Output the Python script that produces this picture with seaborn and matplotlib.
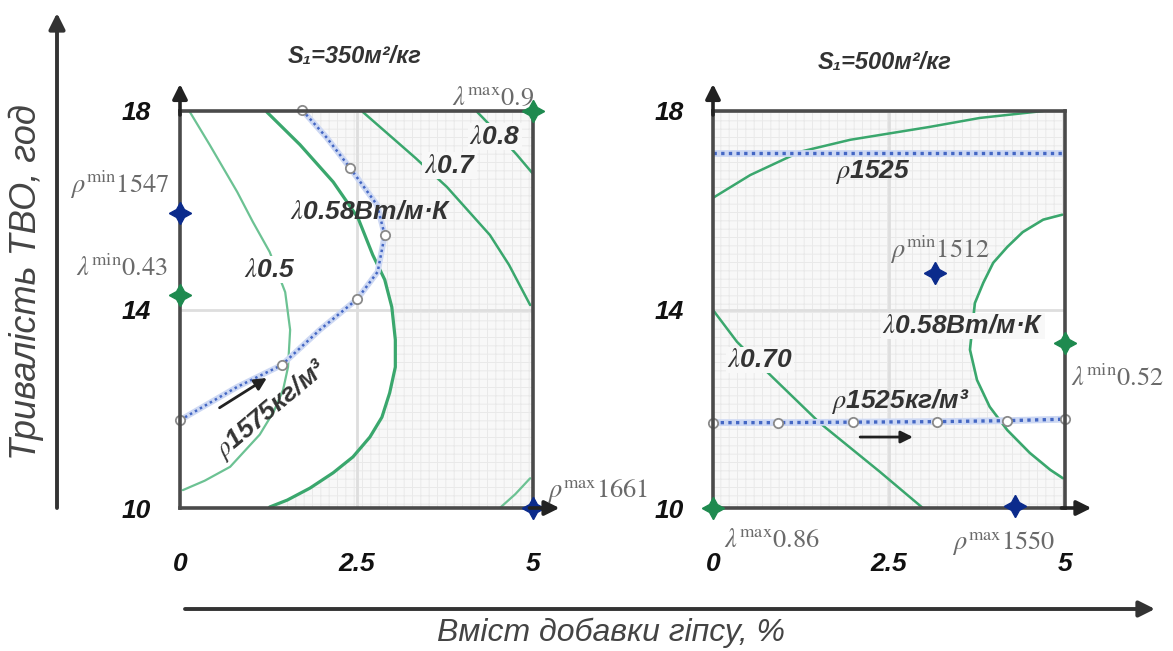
import numpy as np
import matplotlib
matplotlib.use("Agg")
import matplotlib.pyplot as plt
import seaborn as sns

# ---------- data (x = gypsum %, y = hours) ----------
# S1 = 350 m2/kg
lam05_x = [0.14, 0.42, 0.81, 1.03, 1.27, 1.49, 1.56, 1.53, 1.46, 1.33, 1.13, 0.71, 0.35, 0.04]
lam05_y = [17.98, 17.32, 16.37, 15.77, 15.16, 14.35, 13.59, 12.84, 12.38, 11.95, 11.48, 10.83, 10.55, 10.36]
lam058_x = [1.23, 1.70, 2.17, 2.52, 2.73, 2.90, 3.00, 3.05, 3.05, 2.97, 2.86, 2.69, 2.45, 2.17, 1.84, 1.52, 1.27]
lam058_y = [17.98, 17.32, 16.57, 15.85, 15.10, 14.60, 14.05, 13.39, 12.84, 12.32, 11.83, 11.43, 11.03, 10.71,
            10.40, 10.16, 10.02]
lam07_x = [2.59, 3.33, 3.78, 4.39, 4.66, 4.96]
lam07_y = [17.98, 17.06, 16.47, 15.50, 14.90, 14.09]
lam08_x = [4.21, 4.36, 4.77, 4.99]
lam08_y = [17.98, 17.76, 17.12, 16.75]
lam09_x = [4.53, 4.75, 4.96]
lam09_y = [10.00, 10.28, 10.60]
rho1575_x = [0.0, 0.81, 1.44, 1.98, 2.51, 2.80, 2.90, 2.79, 2.41, 2.08, 1.73]
rho1575_y = [11.77, 12.44, 12.88, 13.59, 14.21, 14.76, 15.50, 16.11, 16.85, 17.46, 18.02]
rho1575_pts = [0, 2, 4, 6, 8, 10]

# S1 = 500 m2/kg
top_x = [0.0, 0.53, 1.24, 1.95, 3.08, 3.79, 4.69]
top_y = [16.25, 16.71, 17.18, 17.42, 17.68, 17.86, 18.0]
rho_hi_x = [0.0, 5.0]
rho_hi_y = [17.16, 17.16]
rho_lo_x = [0.0, 0.93, 1.99, 3.18, 4.17, 5.0]
rho_lo_y = [11.72, 11.72, 11.73, 11.74, 11.76, 11.79]
lam070_x = [0.0, 0.34, 0.77, 1.52, 2.37, 2.98]
lam070_y = [13.99, 13.35, 12.74, 11.71, 10.73, 10.0]
lam058r_x = [4.96, 4.69, 4.40, 4.18, 3.98, 3.84, 3.72, 3.65, 3.75, 3.93, 4.18, 4.50, 4.79, 4.97]
lam058r_y = [15.91, 15.81, 15.56, 15.26, 14.94, 14.54, 14.13, 13.19, 12.58, 12.04, 11.57, 11.11, 10.77, 10.60]

# extrema (stars)
left_stars = [(0.0, 15.95, "blue"), (0.0, 14.29, "green"), (5.0, 18.0, "green"), (5.0, 10.0, "blue")]
right_stars = [(3.15, 14.74, "blue"), (5.0, 13.33, "green"), (0.0, 10.0, "green"), (4.29, 10.05, "blue")]

xticks = [0, 2.5, 5]
xticklabels = ["0", "2.5", "5"]
yticks = [10, 14, 18]

GREEN = "#3aa76d"
LGREEN = "#6cc293"
BLUE = "#4467c4"
HALO = "#cdd8f3"
STAR = {"blue": "#0b2b8c", "green": "#1e8a4f"}
FRAME = "#4a4a4a"
HATCH_FC = "#f8f8f8"
HATCH_EC = "#e9e9e9"

sns.set_theme(style="white")
plt.rcParams["font.family"] = ["Liberation Sans", "DejaVu Sans"]
plt.rcParams["mathtext.fontset"] = "stix"
plt.rcParams["hatch.linewidth"] = 0.7

fig = plt.figure(figsize=(11.73, 6.51), dpi=100)
W, H = 1173, 651
ax1 = fig.add_axes([180 / W, 143 / H, 353 / W, 397 / H])
ax2 = fig.add_axes([713 / W, 143 / H, 352 / W, 397 / H])


def line(ax, x, y, color, lw, z=3):
    sns.lineplot(x=x, y=y, sort=False, estimator=None, color=color, lw=lw, ax=ax, zorder=z)


def blue_line(ax, x, y, lw=2.0):
    sns.lineplot(x=x, y=y, sort=False, estimator=None, color=HALO, lw=lw + 2.5, ax=ax, zorder=3)
    ax.plot(x, y, color=BLUE, lw=lw, ls=(0, (1, 1.3)), zorder=3.1)


def stars(ax, pts):
    for x, y, c in pts:
        ax.plot([x], [y], marker=(4, 1, 0), ms=16, color=STAR[c], mec=STAR[c], clip_on=False, zorder=6)


def frame(ax):
    ax.set_xlim(0, 5)
    ax.set_ylim(10, 18)
    for s in ax.spines.values():
        s.set_visible(True)
        s.set_color(FRAME)
        s.set_linewidth(2.6)
        s.set_zorder(5)
    ax.set_xticks(xticks)
    ax.set_xticklabels(xticklabels)
    ax.set_yticks(yticks)
    ax.tick_params(length=0, labelsize=19, colors="#111")
    ax.tick_params(axis="x", pad=32)
    ax.tick_params(axis="y", pad=21)
    for t in ax.get_xticklabels() + ax.get_yticklabels():
        t.set_fontweight("bold")
        t.set_fontstyle("italic")
    ax.grid(False)
    ax.axvline(2.5, color="#dedede", lw=2, zorder=1)
    ax.axhline(14, color="#dedede", lw=2, zorder=1)
    arr = dict(arrowstyle="-|>", color="#222", lw=2.6, mutation_scale=22, shrinkA=0, shrinkB=0)
    ax.annotate("", xy=(0, 1.068), xytext=(0, 0.99), xycoords="axes fraction", arrowprops=arr, zorder=6)
    ax.annotate("", xy=(1.075, 0), xytext=(0.99, 0), xycoords="axes fraction", arrowprops=arr, zorder=6)


lab_kw = dict(fontsize=19, fontweight="bold", fontstyle="italic", color="#333", ha="center", va="center", zorder=7)
ext_kw = dict(fontsize=19, color="#6a6a6a", ha="center", va="center", clip_on=False, zorder=7)
arr_small = dict(arrowstyle="-|>", color="#222", lw=2, mutation_scale=18, shrinkA=0, shrinkB=0)

# ---------------- left panel ----------------
yy = np.linspace(10, 18, 321)
g_b = np.interp(yy, lam058_y[::-1], lam058_x[::-1])
b_b = np.where(yy >= rho1575_y[0], np.interp(yy, rho1575_y, rho1575_x), 0)
ax1.fill_betweenx(yy, np.maximum(g_b, b_b), 5, facecolor=HATCH_FC, edgecolor=HATCH_EC, hatch="++", lw=0, zorder=0.5)

line(ax1, lam05_x, lam05_y, LGREEN, 1.6)
line(ax1, lam058_x, lam058_y, GREEN, 2.3)
line(ax1, lam07_x, lam07_y, GREEN, 1.8)
line(ax1, lam08_x, lam08_y, GREEN, 1.8)
line(ax1, lam09_x, lam09_y, LGREEN, 1.6)
blue_line(ax1, rho1575_x, rho1575_y, 1.8)
sns.scatterplot(x=[rho1575_x[i] for i in rho1575_pts], y=[rho1575_y[i] for i in rho1575_pts], s=45,
                facecolor="white", edgecolor="#8a8a8a", linewidth=1.3, ax=ax1, zorder=4, clip_on=False)
stars(ax1, left_stars)
frame(ax1)

ax1.text(1.27, 14.80, r"$\lambda$0.5", bbox=dict(fc="white", ec="none", pad=1), **lab_kw)
ax1.text(2.70, 15.97, r"$\lambda$0.58Вт/м·К", **lab_kw)
ax1.text(3.82, 16.90, r"$\lambda$0.7", bbox=dict(fc=HATCH_FC, ec="none", pad=1), **lab_kw)
ax1.text(4.46, 17.48, r"$\lambda$0.8", bbox=dict(fc=HATCH_FC, ec="none", pad=1), **lab_kw)
ax1.text(1.30, 11.98, r"$\rho$1575кг/м³", rotation=40, **lab_kw)
ax1.annotate("", xy=(1.23, 12.62), xytext=(0.56, 12.02), arrowprops=arr_small, zorder=7)
ax1.text(-0.85, 16.51, r"$\rho^{\rm min}1547$", **ext_kw)
ax1.text(-0.82, 14.84, r"$\lambda^{\rm min}0.43$", **ext_kw)
ax1.text(4.43, 18.27, r"$\lambda^{\rm max}0.9$", **ext_kw)
ax1.text(5.92, 10.32, r"$\rho^{\rm max}1661$", **ext_kw)

# ---------------- right panel ----------------
ax2.fill_between([0, 5], 10, 18, facecolor=HATCH_FC, edgecolor=HATCH_EC, hatch="++", lw=0, zorder=0.5)
ax2.fill_betweenx(lam058r_y, lam058r_x, 5, color="white", lw=0, zorder=0.6)

line(ax2, top_x, top_y, GREEN, 1.8)
line(ax2, lam070_x, lam070_y, GREEN, 1.8)
line(ax2, lam058r_x, lam058r_y, GREEN, 1.9)
blue_line(ax2, rho_hi_x, rho_hi_y, 2.4)
blue_line(ax2, rho_lo_x, rho_lo_y, 2.4)
sns.scatterplot(x=rho_lo_x, y=rho_lo_y, s=45, facecolor="white", edgecolor="#8a8a8a", linewidth=1.3,
                ax=ax2, zorder=4, clip_on=False)
stars(ax2, right_stars)
frame(ax2)

ax2.text(2.27, 16.77, r"$\rho$1525", **lab_kw)
ax2.text(3.55, 13.67, r"$\lambda$0.58Вт/м·К", bbox=dict(fc=HATCH_FC, ec="none", pad=1), **lab_kw)
ax2.text(0.67, 12.98, r"$\lambda$0.70", bbox=dict(fc=HATCH_FC, ec="none", pad=1), **lab_kw)
ax2.text(2.66, 12.14, r"$\rho$1525кг/м³", **lab_kw)
ax2.annotate("", xy=(2.84, 11.43), xytext=(2.09, 11.43), arrowprops=arr_small, zorder=7)
ax2.text(3.22, 15.20, r"$\rho^{\rm min}1512$", **ext_kw)
ax2.text(5.74, 12.62, r"$\lambda^{\rm min}0.52$", **ext_kw)
ax2.text(0.84, 9.35, r"$\lambda^{\rm max}0.86$", **ext_kw)
ax2.text(4.12, 9.29, r"$\rho^{\rm max}1550$", **ext_kw)

# titles
fig.text(355 / W, 1 - 57 / H, "S₁=350м²/кг", fontsize=17, fontweight="bold", fontstyle="italic",
         color="#333", ha="center", va="center")
fig.text(885 / W, 1 - 62 / H, "S₁=500м²/кг", fontsize=17, fontweight="bold", fontstyle="italic",
         color="#333", ha="center", va="center")

# outer axes arrows
big = dict(arrowstyle="-|>", color="#333", lw=2.8, mutation_scale=24, shrinkA=0, shrinkB=0)
fig.add_artist(matplotlib.patches.FancyArrowPatch((57 / W, 143 / H), (57 / W, 1 - 13 / H),
                                                  transform=fig.transFigure, **big))
fig.add_artist(matplotlib.patches.FancyArrowPatch((185 / W, 42 / H), (1155 / W, 42 / H),
                                                  transform=fig.transFigure, **big))
fig.text(26 / W, 1 - 282 / H, "Тривалість ТВО, год", rotation=90, fontsize=26, fontstyle="italic",
         color="#444", ha="center", va="center")
fig.text(611 / W, 1 - 633 / H, "Вміст добавки гіпсу, %", fontsize=23, fontstyle="italic",
         color="#444", ha="center", va="center")

fig.savefig("out.png", dpi=100)
